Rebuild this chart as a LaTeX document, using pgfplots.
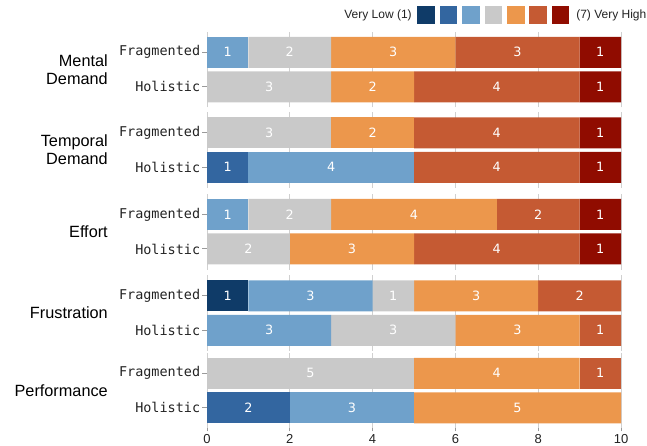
\documentclass[border=0pt]{standalone}
\usepackage{fontspec}
\setmainfont{Liberation Sans}
\setmonofont{DejaVu Sans Mono}
\newfontfamily\numfont{DejaVu Sans}
\usepackage{pgfplots}
\usepackage{pgfplotstable}
\pgfplotsset{compat=1.18}

\definecolor{c1}{HTML}{0F3B68}
\definecolor{c2}{HTML}{3366A0}
\definecolor{c3}{HTML}{6FA1CB}
\definecolor{c4}{HTML}{C9C9C9}
\definecolor{c5}{HTML}{EC974C}
\definecolor{c6}{HTML}{C55A33}
\definecolor{c7}{HTML}{900C00}
\definecolor{gridc}{HTML}{D0D0D0}
\definecolor{tickc}{HTML}{9A9A9A}
\definecolor{txt}{HTML}{222222}

% rows: 1 = Fragmented, 0 = Holistic ; c1..c7 = counts per rating
\pgfplotstableread{
row c1 c2 c3 c4 c5 c6 c7
1 0 0 1 2 3 3 1
0 0 0 0 3 2 4 1
}\mentalbars
\pgfplotstableread{
row c1 c2 c3 c4 c5 c6 c7
1 0 0 0 3 2 4 1
0 0 1 4 0 0 4 1
}\temporalbars
\pgfplotstableread{
row c1 c2 c3 c4 c5 c6 c7
1 0 0 1 2 4 2 1
0 0 0 0 2 3 4 1
}\effortbars
\pgfplotstableread{
row c1 c2 c3 c4 c5 c6 c7
1 1 0 3 1 3 2 0
0 0 0 3 3 3 1 0
}\frustbars
\pgfplotstableread{
row c1 c2 c3 c4 c5 c6 c7
1 0 0 0 5 4 1 0
0 0 2 3 0 5 0 0
}\perfbars

\pgfplotstableread{
x y lab
0.5 1 1
2 1 2
4.5 1 3
7.5 1 3
9.5 1 1
1.5 0 3
4 0 2
7 0 4
9.5 0 1
}\mentallab
\pgfplotstableread{
x y lab
1.5 1 3
4 1 2
7 1 4
9.5 1 1
0.5 0 1
3 0 4
7 0 4
9.5 0 1
}\temporallab
\pgfplotstableread{
x y lab
0.5 1 1
2 1 2
5 1 4
8 1 2
9.5 1 1
1 0 2
3.5 0 3
7 0 4
9.5 0 1
}\effortlab
\pgfplotstableread{
x y lab
0.5 1 1
2.5 1 3
4.5 1 1
6.5 1 3
9 1 2
1.5 0 3
4.5 0 3
7.5 0 3
9.5 0 1
}\frustlab
\pgfplotstableread{
x y lab
2.5 1 5
7 1 4
9.5 1 1
1 0 2
3.5 0 3
7.5 0 5
}\perflab

\pgfplotsset{
  base/.style={
    anchor=west, scale only axis, width=310.5pt, height=56.925pt,
    xmin=0, xmax=10, ymin=-0.6, ymax=1.6,
  },
  barax/.style={
    base,
    xbar stacked, bar width=23.25pt,
    axis line style={draw=none},
    tick pos=left, tick align=outside, major tick length=3.75pt,
    ytick={0,1}, yticklabels={Holistic,Fragmented},
    y tick style={draw=tickc, line width=0.75pt},
    yticklabel style={font=\ttfamily\fontsize{10.1}{12}\selectfont, text=txt, inner sep=1.2pt},
    xtick={0,2,4,6,8,10}, xmajorgrids,
    grid style={draw=gridc, line width=0.75pt},
    xticklabels={}, x tick style={draw=none},
    /pgf/number format/assume math mode=true,
  },
  lbl/.style={
    only marks, mark=text, text mark={},
    point meta=explicit symbolic, nodes near coords,
    every node near coord/.style={anchor=center, text=white,
      font=\numfont\fontsize{9.6}{11}\selectfont},
  },
}

\newcommand{\panel}[4]{%
  \begin{axis}[barax, at={(155.25pt,-#1)}, #4]
    \addplot[fill=c1, draw=none] table[x=c1, y=row]{#2};
    \addplot[fill=c2, draw=none] table[x=c2, y=row]{#2};
    \addplot[fill=c3, draw=none] table[x=c3, y=row]{#2};
    \addplot[fill=c4, draw=none] table[x=c4, y=row]{#2};
    \addplot[fill=c5, draw=none] table[x=c5, y=row]{#2};
    \addplot[fill=c6, draw=none] table[x=c6, y=row]{#2};
    \addplot[fill=c7, draw=none] table[x=c7, y=row]{#2};
  \end{axis}
  \begin{axis}[base, at={(155.25pt,-#1)}, hide axis]
    \addplot[lbl] table[x=x, y=y, meta=lab]{#3};
  \end{axis}%
}

\begin{document}
\begin{tikzpicture}
\useasboundingbox (0,0) rectangle (485.25pt,-334.5pt);

\panel{52.125pt}{\mentalbars}{\mentallab}{}
\panel{112.5pt}{\temporalbars}{\temporallab}{}
\panel{173.8pt}{\effortbars}{\effortlab}{}
\panel{234.75pt}{\frustbars}{\frustlab}{}
\panel{292.9pt}{\perfbars}{\perflab}{
  xticklabels={0,2,4,6,8,10},
  x tick style={draw=tickc, line width=0.75pt, /pgfplots/major tick length=2.2pt},
  xticklabel style={font=\fontsize{9.75}{11}\selectfont, text=txt, inner sep=0.8pt},
}

% group labels
\begin{scope}[every node/.style={anchor=east, align=right, text=black,
    font=\fontsize{12.2}{13.7}\selectfont, inner sep=0pt}]
  \node at (81pt,-52.125pt) {Mental\\Demand};
  \node at (81pt,-112.5pt) {Temporal\\Demand};
  \node at (81pt,-173.8pt) {Effort};
  \node at (81pt,-234.75pt) {Frustration};
  \node at (81pt,-292.9pt) {Performance};
\end{scope}

% legend
\begin{scope}[every node/.style={text=txt, font=\fontsize{9}{10}\selectfont, inner sep=0pt}]
  \node[anchor=east] at (309pt,-11.25pt) {Very Low (1)};
  \foreach \i [count=\k from 0] in {c1,c2,c3,c4,c5,c6,c7}{
    \fill[\i] (313pt+\k*16.8pt,-4.6pt) rectangle ++(13.3pt,-13.3pt);
  }
  \node[anchor=west] at (432pt,-11.25pt) {(7) Very High};
\end{scope}
\end{tikzpicture}
\end{document}
